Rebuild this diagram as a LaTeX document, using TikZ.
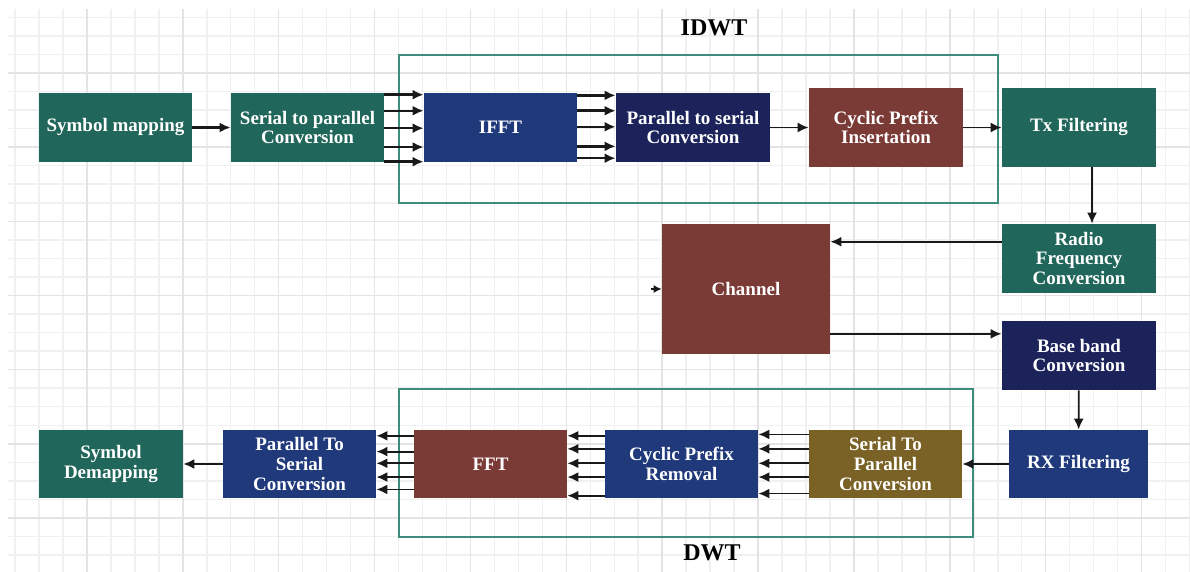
\documentclass[tikz,border=0pt]{standalone}
\usepackage{fontspec}
\setmainfont{Liberation Serif}
\usetikzlibrary{arrows.meta,calc}

\definecolor{ofdmgreen}{RGB}{33,102,90}
\definecolor{ofdmblue}{RGB}{31,57,122}
\definecolor{ofdmnavy}{RGB}{28,35,90}
\definecolor{ofdmbrown}{RGB}{122,58,54}
\definecolor{ofdmolive}{RGB}{122,97,38}
\definecolor{framecol}{RGB}{62,140,124}
\definecolor{gridminor}{RGB}{240,240,240}
\definecolor{gridmajor}{RGB}{228,228,228}

\tikzset{
  blk/.style={rectangle, inner sep=1pt, align=center, text=white,
    font=\bfseries\fontsize{9.5}{9.8}\selectfont},
  arr/.style={draw=black!90, line width=0.9pt, -{Latex[length=5.5pt,width=5pt]}},
  thickarr/.style={arr, line width=1.4pt},
  frm/.style={draw=framecol, line width=0.7pt},
  ttl/.style={font=\bfseries\fontsize{12}{12}\selectfont, text=black}
}

\begin{document}
\begin{tikzpicture}[x=0.5pt,y=-0.5pt]
  % page area
  \fill[white] (0,0) rectangle (1190,572);
  \useasboundingbox (0,0) rectangle (1190,572);

  % background grid
  \foreach \k in {0,...,49}{
    \pgfmathtruncatemacro\m{mod(\k+1,4)}
    \ifnum\m=0\relax\else
      \draw[line width=0.75pt, gridminor] ({15+23.97*\k},9) -- ({15+23.97*\k},572);
    \fi}
  \foreach \j in {-3,...,26}{
    \pgfmathtruncatemacro\m{mod(\j+12,4)}
    \ifnum\m=0\relax\else
      \draw[line width=0.75pt, gridminor] (8,{73+18.54*\j}) -- (1190,{73+18.54*\j});
    \fi}
  \foreach \k in {3,7,...,47}{
    \draw[line width=0.75pt, gridmajor] ({15+23.97*\k},9) -- ({15+23.97*\k},572);}
  \foreach \j in {0,4,...,24}{
    \draw[line width=0.75pt, gridmajor] (8,{73+18.54*\j}) -- (1190,{73+18.54*\j});}

  % transform frames
  \draw[frm] (399,55) rectangle (998,203);
  \draw[frm] (399,389) rectangle (973,537);
  \node[ttl] (idwt) at (714,28) {IDWT};
  \node[ttl] (dwt) at (712,553) {DWT};

  % transmitter chain
  \node[blk, fill=ofdmgreen, minimum width=76.5pt, minimum height=34.5pt] (sym) at (115.5,127.5) {Symbol mapping};
  \node[blk, fill=ofdmgreen, minimum width=76.5pt, minimum height=34.5pt] (sp) at (307.5,127.5) {Serial to parallel\\Conversion};
  \node[blk, fill=ofdmblue, minimum width=76.5pt, minimum height=34.5pt] (ifft) at (500.5,127.5) {IFFT};
  \node[blk, fill=ofdmnavy, minimum width=77pt, minimum height=34.5pt] (ps) at (693,127.5) {Parallel to serial\\Conversion};
  \node[blk, fill=ofdmbrown, minimum width=77pt, minimum height=39.5pt] (cpi) at (886,127.5) {Cyclic Prefix\\Insertation};
  \node[blk, fill=ofdmgreen, minimum width=77pt, minimum height=39.5pt] (tx) at (1079,127.5) {Tx Filtering};

  % radio link
  \node[blk, fill=ofdmgreen, minimum width=77pt, minimum height=34.5pt] (rf) at (1079,258.5) {Radio\\Frequency\\Conversion};
  \node[blk, fill=ofdmbrown, minimum width=84pt, minimum height=65pt] (ch) at (746,289) {Channel};
  \node[blk, fill=ofdmnavy, minimum width=77pt, minimum height=34.5pt] (bb) at (1079,355.5) {Base band\\Conversion};

  % receiver chain
  \node[blk, fill=ofdmblue, minimum width=69.5pt, minimum height=34pt] (rx) at (1078.5,464) {RX Filtering};
  \node[blk, fill=ofdmolive, minimum width=76.5pt, minimum height=34pt] (spr) at (885.5,464) {Serial To\\Parallel\\Conversion};
  \node[blk, fill=ofdmblue, minimum width=76.5pt, minimum height=34pt] (cpr) at (681.5,464) {Cyclic Prefix\\Removal};
  \node[blk, fill=ofdmbrown, minimum width=76.5pt, minimum height=34pt] (fft) at (490.5,464) {FFT};
  \node[blk, fill=ofdmblue, minimum width=76.5pt, minimum height=34pt] (psr) at (299.5,464) {Parallel To\\Serial\\Conversion};
  \node[blk, fill=ofdmgreen, minimum width=72pt, minimum height=34pt] (dem) at (111,464) {Symbol\\Demapping};

  % transmitter connectors
  \draw[thickarr] (sym) -- (sp);
  \foreach \f/\w in {0.03/1.3pt,0.26/1.1pt,0.51/1.1pt,0.78/1.3pt,0.99/1.4pt}{
    \draw[arr, line width=\w] ($(sp.north east)!\f!(sp.south east)$) -- ($(ifft.north west)!\f!(ifft.south west)$);}
  \foreach \f/\w in {0.04/1.4pt,0.26/1.4pt,0.49/1.1pt,0.77/1.4pt,0.94/1.1pt}{
    \draw[arr, line width=\w] ($(ifft.north east)!\f!(ifft.south east)$) -- ($(ps.north west)!\f!(ps.south west)$);}
  \draw[arr] (ps) -- (cpi);
  \draw[arr] (cpi) -- (tx);
  \draw[arr] ($(tx.south)+(13,0)$) -- ($(rf.north)+(13,0)$);

  % channel connectors
  \draw[arr] ($(rf.north west)!0.26!(rf.south west)$) coordinate (rfout) -- (rfout -| ch.east);
  \coordinate (bbin) at ($(bb.north west)!0.19!(bb.south west)$);
  \draw[arr] (bbin -| ch.east) -- (bbin);
  \coordinate (chin) at ($(ch.west)+(-11,0)$);
  \draw[arr, line width=0.6pt, -{Latex[length=4pt,width=4pt]}] (chin) -- (ch.west);
  \draw[arr] (bb) -- (rx);

  % receiver connectors
  \draw[arr] (rx) -- (spr);
  \foreach \f in {0.07,0.28,0.49,0.69,0.93}{
    \draw[arr] ($(spr.north west)!\f!(spr.south west)$) -- ($(cpr.north east)!\f!(cpr.south east)$);}
  \foreach \f in {0.09,0.28,0.49,0.69,0.96}{
    \draw[arr] ($(cpr.north west)!\f!(cpr.south west)$) -- ($(fft.north east)!\f!(fft.south east)$);}
  \foreach \f in {0.09,0.32,0.49,0.69,0.87}{
    \draw[arr] ($(fft.north west)!\f!(fft.south west)$) -- ($(psr.north east)!\f!(psr.south east)$);}
  \draw[arr] (psr) -- (dem);
\end{tikzpicture}
\end{document}
